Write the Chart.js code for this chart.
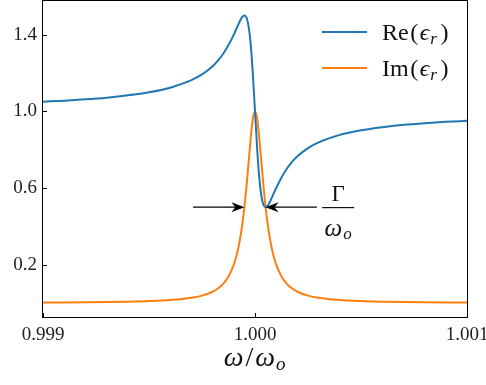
<!DOCTYPE html>
<html lang="en">
<head>
  <meta charset="UTF-8">
  <title>Lorentz permittivity</title>
  <style>
    body {
      margin: 0;
      padding: 0;
      background-color: #ffffff;
    }
    #permChart {
      display: block;
    }
  </style>
</head>
<body>
  <canvas id="permChart" width="486" height="385"></canvas>

  <script src="https://cdn.jsdelivr.net/npm/chart.js"></script>
  <script>
    // frequency axis, omega / omega_o
    const omegaRatio = [
      0.999, 0.9991, 0.9992, 0.9993, 0.9994, 0.9995, 0.9996, 0.9997, 0.99975, 0.9998,
      0.999825, 0.99985, 0.999875, 0.9999, 0.99991, 0.99992, 0.99993, 0.99994, 0.99995,
      0.99996, 0.99997, 0.99998, 0.99999, 1.0, 1.00001, 1.00002, 1.00003, 1.00004,
      1.00005, 1.00006, 1.00007, 1.00008, 1.00009, 1.0001, 1.000125, 1.00015, 1.000175,
      1.0002, 1.00025, 1.0003, 1.0004, 1.0005, 1.0006, 1.0007, 1.0008, 1.0009, 1.001
    ];
    // real part of relative permittivity
    const reEps = [
      1.050, 1.055, 1.062, 1.071, 1.083, 1.099, 1.123, 1.162, 1.192, 1.235,
      1.264, 1.300, 1.345, 1.400, 1.425, 1.449, 1.473, 1.492, 1.500,
      1.488, 1.441, 1.345, 1.192, 1.000, 0.808, 0.655, 0.559, 0.512,
      0.500, 0.508, 0.527, 0.551, 0.576, 0.600, 0.655, 0.700, 0.736,
      0.765, 0.808, 0.838, 0.877, 0.901, 0.917, 0.929, 0.938, 0.945, 0.950
    ];
    // imaginary part of relative permittivity
    const imEps = [
      0.0025, 0.0031, 0.0039, 0.0051, 0.0069, 0.0099, 0.0154, 0.027, 0.0385, 0.0588,
      0.0755, 0.100, 0.138, 0.200, 0.236, 0.281, 0.338, 0.410, 0.500,
      0.610, 0.735, 0.862, 0.962, 1.000, 0.962, 0.862, 0.735, 0.610,
      0.500, 0.410, 0.338, 0.281, 0.236, 0.200, 0.138, 0.100, 0.0755,
      0.0588, 0.0385, 0.027, 0.0154, 0.0099, 0.0069, 0.0051, 0.0039, 0.0031, 0.0025
    ];
    const xTicks = [0.999, 1.000, 1.001];
    const yTicks = [0.2, 0.6, 1.0, 1.4];
    const seriesNames = ['Re', 'Im'];
    const seriesColors = ['#1f77b4', '#ff7f0e'];

    // linewidth markers: arrows point at the half-maximum crossings
    const halfWidthTips = [0.99995, 1.00005];
    const halfWidthTails = [0.999708, 1.000292];
    const halfWidthLevel = 0.5;

    const SERIF = '"Liberation Serif", "DejaVu Serif", serif';

    // draws a run of text pieces (upright / italic / subscript) starting at x
    function drawPieces(ctx, pieces, x, y, align) {
      let total = 0;
      pieces.forEach(p => { ctx.font = p.font; total += ctx.measureText(p.text).width + (p.gap || 0); });
      let cx = align === 'center' ? x - total / 2 : x;
      ctx.textAlign = 'left';
      ctx.textBaseline = 'alphabetic';
      pieces.forEach(p => {
        ctx.font = p.font;
        ctx.fillText(p.text, cx, y + (p.dy || 0));
        cx += ctx.measureText(p.text).width + (p.gap || 0);
      });
    }

    function epsPieces(name) {
      return [
        { text: name, font: '24px ' + SERIF, gap: 1.5 },
        { text: '(', font: '24px ' + SERIF, gap: 1.5 },
        { text: '\u03F5', font: 'italic 24px ' + SERIF, gap: 1 },
        { text: 'r', font: 'italic 17px ' + SERIF, dy: 4, gap: 3.5 },
        { text: ')', font: '24px ' + SERIF }
      ];
    }

    function drawArrow(ctx, x0, x1, y) {
      const dir = Math.sign(x1 - x0);
      ctx.beginPath();
      ctx.moveTo(x0, y);
      ctx.lineTo(x1 - dir * 6, y);
      ctx.stroke();
      ctx.beginPath();
      ctx.moveTo(x1, y);
      ctx.lineTo(x1 - dir * 13, y - 5);
      ctx.lineTo(x1 - dir * 9, y);
      ctx.lineTo(x1 - dir * 13, y + 5);
      ctx.closePath();
      ctx.fill();
    }

    const decorations = {
      id: 'decorations',
      afterDraw(chart) {
        const ctx = chart.ctx;
        const xs = chart.scales.x;
        const ys = chart.scales.y;
        const a = chart.chartArea;
        ctx.save();

        // frame
        ctx.strokeStyle = '#000';
        ctx.lineWidth = 1;
        ctx.strokeRect(a.left - 0.5, a.top - 0.5, a.right - a.left + 1, a.bottom - a.top + 1);

        // inward tick marks
        ctx.beginPath();
        yTicks.forEach(v => {
          const py = Math.round(ys.getPixelForValue(v)) + 0.5;
          ctx.moveTo(a.left, py);
          ctx.lineTo(a.left + 4, py);
        });
        xTicks.forEach(v => {
          const px = Math.round(xs.getPixelForValue(v)) + 0.5;
          ctx.moveTo(px, a.bottom);
          ctx.lineTo(px, a.bottom - 4);
        });
        ctx.stroke();

        // half-width arrows
        ctx.fillStyle = '#000';
        ctx.lineWidth = 1.2;
        const ay = ys.getPixelForValue(halfWidthLevel);
        for (let i = 0; i < 2; i++) {
          drawArrow(ctx, xs.getPixelForValue(halfWidthTails[i]), xs.getPixelForValue(halfWidthTips[i]), ay);
        }

        // Gamma / omega_o label
        const fx = xs.getPixelForValue(1.000392);
        ctx.fillStyle = '#111';
        drawPieces(ctx, [{ text: '\u0393', font: '23px ' + SERIF }], fx, ay - 6, 'center');
        ctx.fillRect(fx - 16, Math.round(ay), 32, 1.2);
        drawPieces(ctx, [
          { text: '\u03C9', font: 'italic 25px ' + SERIF, gap: 1 },
          { text: 'o', font: 'italic 17px ' + SERIF, dy: 3 }
        ], fx, ay + 29, 'center');

        // legend
        seriesNames.forEach((name, i) => {
          const ly = 32 + i * 36;
          ctx.strokeStyle = seriesColors[i];
          ctx.lineWidth = 2;
          ctx.beginPath();
          ctx.moveTo(322, ly);
          ctx.lineTo(367, ly);
          ctx.stroke();
          ctx.fillStyle = '#111';
          drawPieces(ctx, epsPieces(name), 382, ly + 8, 'left');
        });

        // x axis title
        drawPieces(ctx, [
          { text: '\u03C9', font: 'italic 28px ' + SERIF, gap: 2 },
          { text: '/', font: '28px ' + SERIF, gap: 2 },
          { text: '\u03C9', font: 'italic 28px ' + SERIF, gap: 1 },
          { text: 'o', font: 'italic 19px ' + SERIF, dy: 4 }
        ], xs.getPixelForValue(0.9999985), 366, 'center');

        ctx.restore();
      }
    };

    const ctx = document.getElementById('permChart').getContext('2d');
    const chart = new Chart(ctx, {
      type: 'line',
      data: {
        datasets: [reEps, imEps].map((vals, i) => ({
          label: seriesNames[i],
          data: omegaRatio.map((w, k) => ({ x: w, y: vals[k] })),
          borderColor: seriesColors[i],
          borderWidth: 2,
          pointRadius: 0,
          fill: false,
          cubicInterpolationMode: 'monotone'
        }))
      },
      options: {
        responsive: false,
        animation: false,
        layout: { padding: { top: 1, right: 19, left: 0, bottom: 0 } },
        plugins: {
          legend: { display: false },
          tooltip: { enabled: false }
        },
        scales: {
          x: {
            type: 'linear',
            min: 0.999,
            max: 1.001,
            grid: { display: false, drawTicks: false },
            border: { display: false },
            afterBuildTicks: s => { s.ticks = xTicks.map(v => ({ value: v })); },
            afterFit: s => { s.height = 68; s.paddingLeft = 0; s.paddingRight = 0; },
            ticks: {
              padding: 7,
              maxRotation: 0,
              color: '#222',
              font: { family: SERIF, size: 19 },
              callback: v => Number(v).toFixed(3)
            }
          },
          y: {
            min: -0.073,
            max: 1.575,
            grid: { display: false, drawTicks: false },
            border: { display: false },
            afterBuildTicks: s => { s.ticks = yTicks.map(v => ({ value: v })); },
            afterFit: s => { s.width = 43; s.paddingTop = 0; s.paddingBottom = 0; },
            ticks: {
              padding: 6,
              color: '#222',
              font: { family: SERIF, size: 19 },
              callback: v => Number(v).toFixed(1)
            }
          }
        }
      },
      plugins: [decorations]
    });
  </script>
</body>
</html>
